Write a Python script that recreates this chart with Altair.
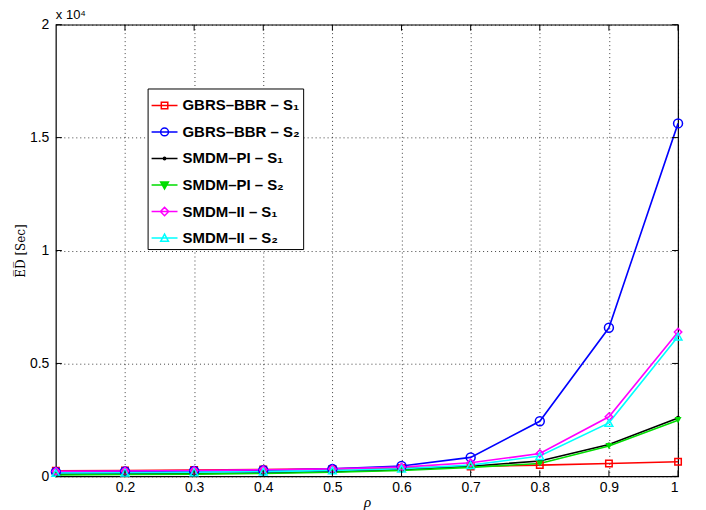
import altair as alt
import pandas as pd

rho = [0.1, 0.2, 0.3, 0.4, 0.5, 0.6, 0.7, 0.8, 0.9, 1.0]
series_names = ["GBRS–BBR – S₁", "GBRS–BBR – S₂", "SMDM–PI – S₁",
                "SMDM–PI – S₂", "SMDM–II – S₁", "SMDM–II – S₂"]
gbrs_bbr_s1 = [250, 260, 280, 300, 330, 370, 440, 500, 570, 650]
gbrs_bbr_s2 = [200, 220, 240, 270, 330, 460, 840, 2440, 6580, 15630]
smdm_pi_s1 = [100, 110, 130, 160, 210, 300, 450, 680, 1410, 2590]
smdm_pi_s2 = [60, 80, 100, 130, 180, 260, 400, 570, 1340, 2490]
smdm_ii_s1 = [230, 240, 260, 290, 330, 410, 600, 1010, 2640, 6390]
smdm_ii_s2 = [150, 160, 180, 210, 260, 340, 500, 900, 2370, 6190]
x_ticks = [0.2, 0.3, 0.4, 0.5, 0.6, 0.7, 0.8, 0.9, 1.0]
y_ticks = [0, 5000, 10000, 15000, 20000]

all_series = [gbrs_bbr_s1, gbrs_bbr_s2, smdm_pi_s1, smdm_pi_s2, smdm_ii_s1, smdm_ii_s2]
rows = []
for name, vals in zip(series_names, all_series):
    for r, v in zip(rho, vals):
        rows.append({"rho": r, "value": v, "series": name})
df = pd.DataFrame(rows)

colors = ["#ff0000", "#0000ff", "#000000", "#00dd00", "#ff00ff", "#00ffff"]
marker_shapes = ["square", "circle", "circle", "triangle-down", "diamond", "triangle-up"]
marker_sizes = [42, 80, 18, 50, 55, 60]
marker_filled = [False, False, True, True, False, False]
legend_paths = [
    "M-1,0L1,0M-0.25,-0.25L0.25,-0.25L0.25,0.25L-0.25,0.25Z",
    "M-1,0L1,0M-0.3,0A0.3,0.3,0,1,0,0.3,0A0.3,0.3,0,1,0,-0.3,0Z",
    "M-1,0L1,0M-0.09,0A0.09,0.09,0,1,0,0.09,0A0.09,0.09,0,1,0,-0.09,0Z",
    "M-1,0L1,0M-0.3,-0.24L0.3,-0.24L0,0.3ZM-0.16,-0.16L0.16,-0.16L0,0.14ZM-0.05,-0.2L0.05,-0.2L0,0",
    "M-1,0L1,0M0,-0.32L0.32,0L0,0.32L-0.32,0Z",
    "M-1,0L1,0M-0.3,0.25L0.3,0.25L0,-0.3Z",
]

W, H = 624, 453
font = "Liberation Sans"
xscale = alt.Scale(domain=[0.1, 1.0], nice=False, zero=False)
yscale = alt.Scale(domain=[0, 20000], nice=False)
cscale = alt.Scale(domain=series_names, range=colors)

x_axis = alt.Axis(values=x_ticks, labelExpr="'' + datum.value", ticks=False, domain=False,
                  grid=True, gridDash=[1, 3], gridColor="#000000", gridOpacity=0.75,
                  labelFont=font, labelFontSize=14, labelColor="black", labelPadding=4,
                  title="ρ", titleFont="Liberation Serif", titleFontStyle="italic",
                  titleFontWeight="normal", titleFontSize=15, titleColor="black", titlePadding=0)
y_axis = alt.Axis(values=y_ticks, labelExpr="'' + datum.value / 10000", ticks=False, domain=False,
                  grid=True, gridDash=[1, 3], gridColor="#000000", gridOpacity=0.75,
                  labelFont=font, labelFontSize=14, labelColor="black", labelPadding=7,
                  title="E̅D̅ [Sec]", titleFont="DejaVu Serif", titleFontWeight="normal",
                  titleFontSize=12, titleColor="black", titlePadding=2)

X = alt.X("rho:Q", scale=xscale, axis=x_axis)
Y = alt.Y("value:Q", scale=yscale, axis=y_axis)

line_layers = []
point_layers = []
for name, col, shp, sz, fl in zip(series_names, colors, marker_shapes, marker_sizes, marker_filled):
    base = alt.Chart(df).transform_filter(alt.datum.series == name)
    line_layers.append(base.mark_line(strokeWidth=1.6, color=col).encode(
        x=X, y=Y, order=alt.Order("rho:Q")))
    point_layers.append(base.mark_point(
        shape=shp, size=sz, filled=fl, color=col, strokeWidth=1.5, opacity=1
    ).encode(x=alt.X("rho:Q", scale=xscale), y=alt.Y("value:Q", scale=yscale)))

leg = alt.Legend(title=None, orient="none", legendX=92, legendY=64, strokeColor="black",
                 fillColor="white", padding=3, rowPadding=4.6, symbolSize=676,
                 symbolStrokeWidth=1.5, symbolOpacity=1, labelFont=font, labelFontSize=15,
                 labelFontWeight="bold", labelColor="black", labelOffset=4, labelLimit=0)
legend_layer = alt.Chart(df).transform_filter("false").mark_point(filled=False, strokeWidth=1.5).encode(
    x=alt.X("rho:Q", scale=xscale), y=alt.Y("value:Q", scale=yscale),
    color=alt.Color("series:N", scale=cscale, legend=leg),
    shape=alt.Shape("series:N", scale=alt.Scale(domain=series_names, range=legend_paths), legend=leg))

xt = pd.DataFrame({"t": x_ticks})
yt = pd.DataFrame({"v": y_ticks})
tb = alt.Chart(xt).mark_rule(color="black", strokeWidth=1).encode(
    x=alt.X("t:Q", scale=xscale), y=alt.value(H), y2=alt.value(H - 6))
tt = alt.Chart(xt).mark_rule(color="black", strokeWidth=1).encode(
    x=alt.X("t:Q", scale=xscale), y=alt.value(0), y2=alt.value(6))
tl = alt.Chart(yt).mark_rule(color="black", strokeWidth=1).encode(
    y=alt.Y("v:Q", scale=yscale), x=alt.value(0), x2=alt.value(6))
tr = alt.Chart(yt).mark_rule(color="black", strokeWidth=1).encode(
    y=alt.Y("v:Q", scale=yscale), x=alt.value(W), x2=alt.value(W - 6))

chart = alt.layer(*line_layers, *point_layers, legend_layer, tb, tt, tl, tr).properties(
    width=W, height=H,
    title=alt.Title("x 10⁴", anchor="start", frame="group", fontSize=13, fontWeight="normal",
                    font=font, color="black", offset=-4),
    autosize=alt.AutoSizeParams(type="none"),
    padding={"left": 48, "top": 16, "right": 20, "bottom": 36},
    background="white",
).configure_view(stroke="black", strokeWidth=1.2)

chart.save("out.html", embed_options={"renderer": "svg", "actions": False})
